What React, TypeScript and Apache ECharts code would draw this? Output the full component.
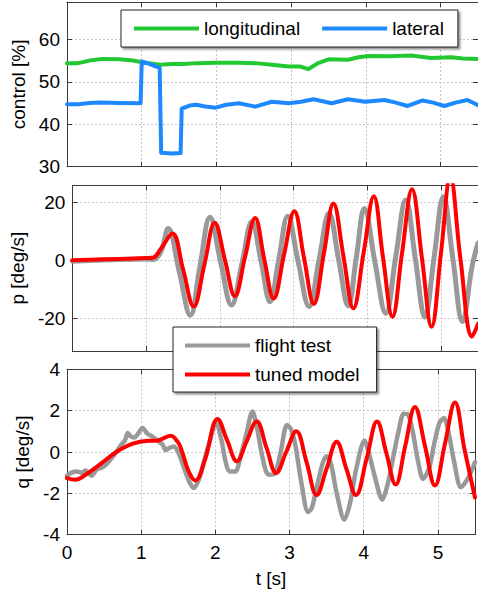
import React, { useEffect, useRef } from 'react';
import * as echarts from 'echarts';

// ---- data (time [s], value) ----
const longitudinal: [number, number][] = [
  [0, 54.4], [0.15, 54.4], [0.3, 55.0], [0.48, 55.4], [0.7, 55.3], [0.88, 55.0],
  [1.01, 54.6], [1.12, 54.3], [1.24, 54.0], [1.4, 54.2], [1.55, 54.2], [1.75, 54.4],
  [1.99, 54.5], [2.3, 54.5], [2.52, 54.4], [2.74, 54.0], [2.97, 53.6], [3.12, 53.6],
  [3.23, 53.0], [3.36, 54.4], [3.5, 55.3], [3.76, 55.2], [3.9, 55.8], [4.03, 56.1],
  [4.3, 56.0], [4.61, 56.2], [4.87, 55.6], [5.14, 55.8], [5.3, 55.5], [5.5, 55.4],
];
const lateral: [number, number][] = [
  [0, 44.7], [0.15, 44.7], [0.3, 45.0], [0.44, 45.1], [0.7, 45.0], [0.985, 44.95],
  [1.0, 54.8], [1.1, 54.2], [1.24, 53.3], [1.26, 33.3], [1.4, 33.1], [1.52, 33.2],
  [1.535, 43.7], [1.64, 44.4], [1.73, 44.6], [1.85, 44.2], [1.99, 43.9], [2.13, 44.6],
  [2.3, 44.95], [2.52, 44.15], [2.74, 45.3], [2.97, 44.95], [3.13, 45.3], [3.3, 45.9],
  [3.54, 44.95], [3.76, 45.9], [3.99, 45.3], [4.25, 45.7], [4.4, 45.1], [4.56, 44.3],
  [4.76, 45.6], [4.9, 45.1], [5.05, 44.3], [5.2, 45.1], [5.36, 45.7], [5.5, 44.5],
];
const pFlight: [number, number][] = [
  [0, -0.3], [0.5, 0.2], [1.0, 0.5], [1.1, 0.3], [1.2, 3], [1.3, 11], [1.45, -4],
  [1.6, -19], [1.73, -2], [1.866, 14.9], [2.01, -0.5], [2.158, -15.5], [2.3, -1],
  [2.434, 13.4], [2.56, -0.5], [2.68, -14.3], [2.8, 0.5], [2.92, 15.3], [3.06, -0.3],
  [3.21, -16], [3.345, 0.2], [3.48, 16.3], [3.61, 0.3], [3.74, -15.8], [3.85, 1],
  [3.96, 18], [4.1, -0.2], [4.25, -18.3], [4.385, 1.3], [4.52, 20.9], [4.65, 0.6],
  [4.78, -19.7], [4.905, 1.1], [5.03, 22], [5.16, 0.4], [5.29, -21.2], [5.42, -2], [5.5, 6],
];
const pModel: [number, number][] = [
  [0, 0], [0.5, 0.4], [1.0, 0.8], [1.1, 1.0], [1.2, 4], [1.356, 9.3], [1.5, -3],
  [1.645, -16], [1.79, -1.5], [1.93, 13], [2.07, 0], [2.203, -12.4], [2.34, 1],
  [2.478, 14.7], [2.6, 0.7], [2.73, -13.2], [2.87, 2], [3.01, 17], [3.14, 1],
  [3.275, -15.1], [3.41, 2.3], [3.54, 19.7], [3.675, 1.5], [3.81, -16.6], [3.95, 2.8],
  [4.087, 22.2], [4.21, 1.4], [4.34, -19.5], [4.47, 2.5], [4.605, 24.6], [4.74, 0.8],
  [4.87, -23], [5.0, 3], [5.124, 29], [5.26, 1], [5.42, -26.4], [5.5, -22],
];
const qFlight: [number, number][] = [
  [0, -1.15], [0.06, -1.0], [0.13, -0.94], [0.2, -1.0], [0.25, -0.9], [0.33, -1.15],
  [0.4, -0.85], [0.47, -0.75], [0.53, -0.6], [0.6, -0.3], [0.665, 0], [0.72, 0.3],
  [0.78, 0.55], [0.82, 0.92], [0.86, 0.75], [0.91, 0.7], [0.96, 0.9], [1.02, 1.16],
  [1.08, 0.9], [1.15, 0.75], [1.22, 0.55], [1.29, 0.35], [1.33, 0.1], [1.38, 0.2],
  [1.44, 0.27], [1.51, -0.1], [1.58, -0.8], [1.65, -1.45], [1.706, -1.74], [1.78, -1.3],
  [1.86, -0.3], [1.93, 0.6], [2.01, 1.45], [2.08, 0.6], [2.14, -0.5], [2.19, -0.94],
  [2.27, -0.94], [2.34, -0.2], [2.42, 0.9], [2.5, 1.96], [2.56, 1.2], [2.62, 0.0],
  [2.68, -0.9], [2.72, -1.1], [2.8, -1.05], [2.88, 0.0], [2.965, 1.3], [3.02, 1.1],
  [3.08, 0.3], [3.16, -1.5], [3.25, -2.9], [3.3, -2.7], [3.38, -1.5], [3.45, -0.5],
  [3.5, -0.2], [3.56, -0.6], [3.63, -1.9], [3.74, -3.27], [3.82, -2.4], [3.9, -0.8],
  [4.01, 0.55], [4.08, -0.2], [4.15, -1.2], [4.25, -2.3], [4.32, -1.6], [4.4, -0.2],
  [4.47, 1.0], [4.54, 1.85], [4.6, 1.8], [4.66, 1.0], [4.73, -0.4], [4.8, -1.3],
  [4.88, -0.8], [4.95, 0.4], [5.02, 1.4], [5.08, 1.64], [5.14, 1.0], [5.22, -0.5],
  [5.31, -1.7], [5.4, -1.3], [5.5, -0.5],
];
const qModel: [number, number][] = [
  [0, -1.26], [0.11, -1.34], [0.25, -1.1], [0.44, -0.61], [0.665, 0], [0.887, 0.4],
  [1.11, 0.55], [1.2, 0.55], [1.285, 0.64], [1.396, 0.79], [1.5, 0.45], [1.55, 0.03],
  [1.64, -0.94], [1.73, -1.38], [1.86, -0.37], [2.03, 1.6], [2.16, 0.55], [2.29, -0.45],
  [2.42, 0.5], [2.557, 1.48], [2.69, 0.2], [2.82, -1.02], [2.955, 0], [3.09, 1.0],
  [3.23, -0.5], [3.365, -2.08], [3.5, -0.8], [3.635, 0.5], [3.765, -0.8], [3.895, -2.08],
  [4.04, -0.3], [4.18, 1.48], [4.305, -0.05], [4.43, -1.57], [4.56, 0.3], [4.69, 2.18],
  [4.825, 0.3], [4.96, -1.62], [5.095, 0.4], [5.23, 2.39], [5.36, 0.1], [5.5, -2.2],
];

const yNames = ['control [%]', 'p [deg/s]', 'q [deg/s]'];
const xName = 't [s]';
const legendTop = ['longitudinal', 'lateral'];
const legendMid = ['flight test', 'tuned model'];

const FONT = '"Liberation Sans", Arial, Helvetica, sans-serif';
const GREEN = '#22c832';
const BLUE = '#1e88ff';
const GRAY = '#999999';
const RED = '#ff0000';

export default function App() {
  const ref = useRef<HTMLDivElement>(null);
  useEffect(() => {
    const chart = echarts.init(ref.current!, null, { renderer: 'svg' });
    const L = 67;
    const W = 413.6;
    const grids = [
      { left: L, top: 2, width: W, height: 164.7 },
      { left: L, top: 185.3, width: W, height: 165.7 },
      { left: L, top: 369.3, width: W, height: 165.4 },
    ];
    const axisLine = { color: '#3a3a3a', width: 1 };
    const split = { color: '#c4c4c4', type: [2, 2] as any, width: 1 };
    const txt = { color: '#000', fontSize: 19, fontFamily: FONT };

    const xAxes: any[] = [];
    for (let i = 0; i < 3; i++) {
      xAxes.push({
        type: 'value', gridIndex: i, min: 0, max: 5.5, interval: 1, position: 'bottom',
        axisLine: { show: true, onZero: false, lineStyle: axisLine },
        axisTick: { show: true, inside: true, length: 5, lineStyle: axisLine },
        axisLabel: {
          show: i === 2, ...txt, margin: 8,
          formatter: (v: number) => (Number.isInteger(v) ? String(v) : ''),
        },
        splitLine: { show: true, lineStyle: split },
        name: i === 2 ? xName : '', nameLocation: 'middle', nameGap: 34, nameTextStyle: txt,
      });
    }
    for (let i = 0; i < 3; i++) {
      xAxes.push({
        type: 'value', gridIndex: i, min: 0, max: 5.5, interval: 1, position: 'top',
        axisLine: { show: true, onZero: false, lineStyle: axisLine },
        axisTick: { show: true, inside: true, length: 5, lineStyle: axisLine },
        axisLabel: { show: false }, splitLine: { show: false },
      });
    }
    const yRanges: any[] = [
      { min: 30, max: 68.8, interval: 10, step: 10 },
      { min: -31.4, max: 26, splitNumber: 3, step: 20 },
      { min: -4, max: 4, interval: 2, step: 2 },
    ];
    const nameGaps = [37, 43, 30];
    const yAxes: any[] = [];
    for (let i = 0; i < 3; i++) {
      const r = yRanges[i];
      const base: any = { type: 'value', gridIndex: i, min: r.min, max: r.max };
      if (r.interval) base.interval = r.interval; else base.splitNumber = r.splitNumber;
      yAxes.push({
        ...base, position: 'left',
        axisLine: { show: true, onZero: false, lineStyle: axisLine },
        axisTick: { show: true, inside: true, length: 5, lineStyle: axisLine },
        axisLabel: {
          ...txt, margin: 7,
          formatter: (v: number) => (Math.abs(v / r.step - Math.round(v / r.step)) < 1e-6 ? String(v) : ''),
        },
        splitLine: { show: true, lineStyle: split },
        name: yNames[i], nameLocation: 'middle', nameGap: nameGaps[i], nameTextStyle: txt,
      });
    }
    for (let i = 0; i < 3; i++) {
      const r = yRanges[i];
      const base: any = { type: 'value', gridIndex: i, min: r.min, max: r.max };
      if (r.interval) base.interval = r.interval; else base.splitNumber = r.splitNumber;
      yAxes.push({
        ...base, position: 'right',
        axisLine: { show: true, onZero: false, lineStyle: axisLine },
        axisTick: { show: true, inside: true, length: 5, lineStyle: axisLine },
        axisLabel: { show: false }, splitLine: { show: false },
      });
    }

    const line = (name: string, data: [number, number][], gi: number, color: string, smooth: number | false, width: number) => ({
      type: 'line', name, data, xAxisIndex: gi, yAxisIndex: gi,
      showSymbol: false, symbol: 'none', smooth, color,
      itemStyle: { color },
      lineStyle: { width, color, cap: 'round', join: 'round' },
      clip: true,
    });

    const legendCommon = {
      icon: 'rect', itemWidth: 65, itemHeight: 4, selectedMode: false,
      backgroundColor: '#fff', borderColor: '#222', borderWidth: 1,
      shadowColor: 'rgba(0,0,0,0.45)', shadowBlur: 2, shadowOffsetX: 2, shadowOffsetY: 2,
      textStyle: txt, z: 10,
    };

    chart.setOption({
      animation: false,
      backgroundColor: '#fff',
      grid: grids,
      xAxis: xAxes,
      yAxis: yAxes,
      legend: [
        { ...legendCommon, data: legendTop, orient: 'horizontal', left: 121, top: 10, itemGap: 22, padding: [9, 14, 9, 13] },
        { ...legendCommon, data: legendMid, orient: 'vertical', left: 173, top: 327, itemGap: 10, padding: [9, 17, 8, 12] },
      ],
      series: [
        line('longitudinal', longitudinal, 0, GREEN, false, 4),
        line('lateral', lateral, 0, BLUE, false, 4),
        line('flight test', pFlight, 1, GRAY, 0.4, 5),
        line('tuned model', pModel, 1, RED, 0.4, 4),
        line('flight test', qFlight, 2, GRAY, 0.3, 4.5),
        line('tuned model', qModel, 2, RED, 0.4, 4),
      ],
    });
    return () => chart.dispose();
  }, []);
  return <div ref={ref} style={{ position: 'absolute', left: 0, top: 0, width: 478, height: 595 }} />;
}
